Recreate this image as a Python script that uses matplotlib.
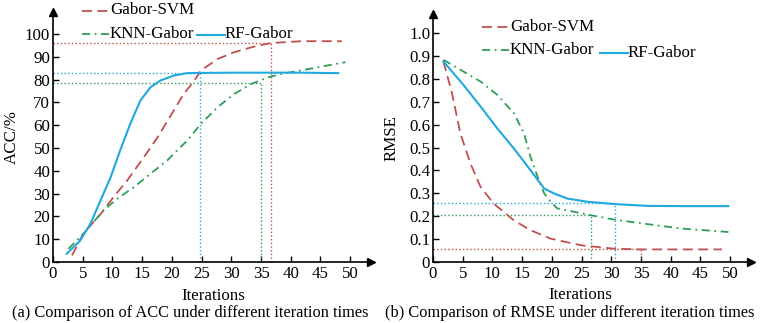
import numpy as np
import matplotlib
matplotlib.use("Agg")
import matplotlib.pyplot as plt

plt.rcParams['font.family'] = ['Liberation Serif', 'DejaVu Serif']

# ACC panel data
acc_svm_x = [3.2, 5.1, 8.0, 10.2, 12.5, 15.3, 17.6, 19.8, 22.0, 23.8, 24.9, 27.7, 30.5, 33.9, 36.7, 41.8, 48.6]
acc_svm_y = [2.9, 12.4, 21.0, 28.5, 35.8, 46.0, 54.7, 64.2, 73.7, 79.6, 84.0, 89.0, 92.0, 94.5, 96.0, 96.8, 96.8]
acc_knn_x = [2.6, 5.1, 8.5, 10.8, 13.6, 16.4, 19.2, 22.6, 24.9, 27.7, 30.5, 33.4, 36.2, 39.0, 41.8, 44.6, 49.2]
acc_knn_y = [5.8, 12.4, 22.6, 27.7, 32.8, 38.7, 44.5, 53.3, 60.6, 67.9, 73.7, 78.1, 81.0, 82.8, 84.0, 85.4, 87.6]
acc_rf_x = [2.3, 4.6, 6.3, 8.0, 9.7, 11.3, 13.0, 14.7, 16.4, 18.1, 20.4, 22.6, 24.9, 30.5, 41.8, 48.0]
acc_rf_y = [3.6, 9.5, 16.8, 27.0, 37.2, 48.9, 60.6, 70.8, 76.6, 79.6, 81.8, 82.8, 82.9, 83.0, 83.0, 82.8]

# RMSE panel data
rmse_svm_x = [1.75, 3.2, 4.6, 6.3, 8.0, 10.2, 13.6, 16.4, 19.8, 24.9, 30.5, 35.0, 48.6]
rmse_svm_y = [0.876, 0.737, 0.562, 0.43, 0.328, 0.255, 0.182, 0.139, 0.102, 0.073, 0.058, 0.055, 0.055]
rmse_knn_x = [1.75, 5.1, 8.0, 10.8, 13.6, 15.3, 16.4, 17.6, 18.7, 19.8, 20.9, 23.8, 26.6, 30.5, 36.2, 41.8, 49.7]
rmse_knn_y = [0.883, 0.832, 0.788, 0.73, 0.65, 0.562, 0.46, 0.372, 0.30, 0.263, 0.234, 0.219, 0.204, 0.185, 0.165, 0.146, 0.131]
rmse_rf_x = [1.75, 5.1, 8.0, 10.8, 13.6, 16.4, 18.7, 20.4, 22.6, 26.0, 30.5, 36.2, 41.8, 49.7]
rmse_rf_y = [0.876, 0.774, 0.679, 0.584, 0.496, 0.401, 0.321, 0.299, 0.277, 0.263, 0.253, 0.245, 0.244, 0.244]

# reference marks (x, y) for each model
acc_marks = {'svm': (36.7, 96.0), 'knn': (35.0, 78.5), 'rf': (24.8, 82.9)}
rmse_marks = {'svm': (35.0, 0.055), 'knn': (26.5, 0.205), 'rf': (30.6, 0.256)}

c_svm = '#c0504d'
c_knn = '#2e9e57'
c_rf = '#1fa9dc'
sty_svm = dict(color=c_svm, lw=1.3, dashes=(5.5, 3))
sty_knn = dict(color=c_knn, lw=1.3, dashes=(4.5, 2.5, 1, 2.5))
sty_rf = dict(color=c_rf, lw=1.5)
fs = 12.2
cap_fs = 11.8

fig = plt.figure(figsize=(7.62, 3.23), dpi=100)
ax1 = fig.add_axes([53 / 762, 61 / 323, 318 / 762, 250 / 323])
ax2 = fig.add_axes([433 / 762, 61 / 323, 318 / 762, 248 / 323])


def style_axes(ax, ymax, yticks, ylabels, xlab_x):
    ax.set_xlim(0, 53.5)
    ax.set_ylim(0, ymax)
    for s in ['top', 'right']:
        ax.spines[s].set_visible(False)
    ax.spines['left'].set_linewidth(1.2)
    ax.spines['bottom'].set_linewidth(1.2)
    ax.set_xticks(range(0, 51, 5))
    ax.set_yticks(yticks)
    ax.set_yticklabels(ylabels)
    ax.tick_params(direction='in', length=4, width=1, labelsize=fs)
    ax.tick_params(axis='x', pad=3)
    ax.tick_params(axis='y', pad=2)
    ax.plot(1, 0, '>k', ms=6, transform=ax.transAxes, clip_on=False)
    ax.plot(0, 1, '^k', ms=6, transform=ax.transAxes, clip_on=False)
    ax.set_xlabel('Iterations', fontsize=fs)
    ax.xaxis.set_label_coords(xlab_x, -0.102)
    ax.yaxis.set_label_coords(-0.105, 0.488)


def ref_lines(ax, marks):
    for key, col in [('svm', c_svm), ('knn', c_knn), ('rf', c_rf)]:
        x, y = marks[key]
        ax.plot([0, x], [y, y], ':', color=col, lw=1)
        ax.plot([x, x], [0, y], ':', color=col, lw=1)


def legend(ax, pos):
    (sx, sy), (kx, ky), (rx, ry) = pos
    w = 0.088
    ax.plot([sx, sx + w], [sy, sy], transform=ax.transAxes, clip_on=False, **sty_svm)
    ax.text(sx + w, sy, 'Gabor-SVM', transform=ax.transAxes, va='center', fontsize=fs)
    ax.plot([kx, kx + w], [ky, ky], transform=ax.transAxes, clip_on=False, **sty_knn)
    ax.text(kx + w, ky, 'KNN-Gabor', transform=ax.transAxes, va='center', fontsize=fs)
    ax.plot([rx, rx + w], [ry, ry], transform=ax.transAxes, clip_on=False, **sty_rf)
    ax.text(rx + w, ry, 'RF-Gabor', transform=ax.transAxes, va='center', fontsize=fs)


# panel (a)
ref_lines(ax1, acc_marks)
ax1.plot(acc_svm_x, acc_svm_y, **sty_svm)
ax1.plot(acc_knn_x, acc_knn_y, **sty_knn)
ax1.plot(acc_rf_x, acc_rf_y, **sty_rf)
style_axes(ax1, 109.6, range(0, 101, 10), [str(v) for v in range(0, 101, 10)], 0.503)
ax1.set_ylabel('ACC/%', fontsize=fs)
legend(ax1, [(0.091, 1.006), (0.091, 0.914), (0.453, 0.91)])
fig.text(190 / 762, 1 - 313 / 323, '(a) Comparison of ACC under different iteration times',
         ha='center', va='center', fontsize=cap_fs)

# panel (b)
ref_lines(ax2, rmse_marks)
ax2.plot(rmse_svm_x, rmse_svm_y, **sty_svm)
ax2.plot(rmse_knn_x, rmse_knn_y, **sty_knn)
ax2.plot(rmse_rf_x, rmse_rf_y, **sty_rf)
rt = [i / 10 for i in range(11)]
style_axes(ax2, 1.083, rt, ['0'] + ['%.1f' % v for v in rt[1:]], 0.462)
ax2.set_ylabel('RMSE', fontsize=fs)
legend(ax2, [(0.154, 0.946), (0.154, 0.854), (0.525, 0.842)])
fig.text(570 / 762, 1 - 313 / 323, '(b) Comparison of RMSE under different iteration times',
         ha='center', va='center', fontsize=cap_fs)

fig.savefig('out.png', dpi=100)
